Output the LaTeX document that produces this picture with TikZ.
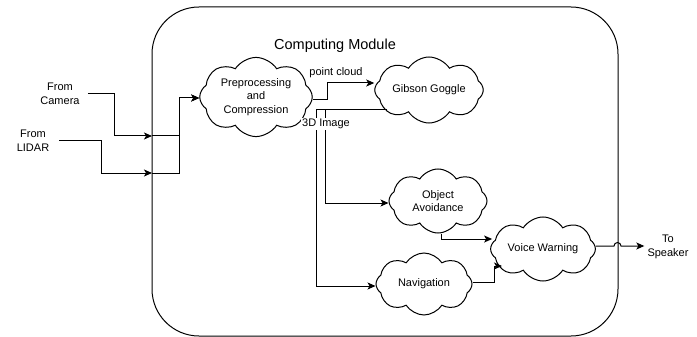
\documentclass[tikz,border=0pt]{standalone}
\usepackage{fontspec}
\setmainfont{Liberation Sans}
\usetikzlibrary{shapes.symbols,arrows.meta,calc}
\begin{document}
\begin{tikzpicture}[x=1pt,y=-1pt,
  lbl/.style={font=\fontsize{11pt}{13.5pt}\selectfont, align=center, inner sep=3pt},
  cl/.style={cloud, draw, line width=1pt, cloud puffs=8, cloud puff arc=115, cloud ignores aspect, fill=white, lbl},
  arr/.style={line width=1pt, -{Stealth[length=8pt,width=7pt,inset=2pt]}},
  ln/.style={line width=1pt}]
\useasboundingbox (0,0) rectangle (697,337);
% module box
\node[draw, line width=1pt, rounded corners=47pt, minimum width=466pt, minimum height=329pt, inner sep=0pt] (cm) at (385,171.5) {};
\node[font=\fontsize{14.5pt}{17pt}\selectfont] (title) at (335,46) {Computing Module};
% text nodes
\node[lbl] (cam) at (60,94) {From\\Camera};
\node[lbl] (lid) at (33,140.5) {From\\LIDAR};
\node[lbl] (spk) at (668,247) {To\\Speaker};
% clouds
\node[cl, minimum width=108pt, minimum height=74pt] (prep) at (256,97) {Preprocessing\\and\\Compression};
\node[cl, minimum width=108pt, minimum height=66pt] (gib) at (429,90) {Gibson Goggle};
\node[cl, minimum width=98pt, minimum height=64pt] (oa) at (438,201) {Object\\Avoidance};
\node[cl, minimum width=96pt, minimum height=62pt] (nav) at (424,284) {Navigation};
\node[cl, minimum width=98pt, minimum height=64pt] (vw) at (543,249) {Voice Warning};
% input points on module border
\coordinate (camin) at (152,136);
\coordinate (lidin) at (152,173);
% input connectors
\draw[arr] ([xshift=5pt]cam.east) -- ++(27,0) |- (camin);
\draw[arr] ([xshift=7pt]lid.east) -- ++(42,0) |- (lidin);
\draw[arr] (camin) -- ++(27,0) |- ([yshift=-1pt]prep.west);
\draw[arr] (lidin) -- ++(27,0) |- ([yshift=-1pt]prep.west);
% prep -> gibson
\draw[arr] ([yshift=-3pt]prep.east) -- ++(15,0) |- ([yshift=7pt]gib.west);
\node[lbl] (pc) at (336,73) {point cloud};
% gibson -> OA / Nav
\draw[arr] ($(gib)+(-42,20)$) -- ++(-62,0) |- ([yshift=-2pt]oa.west);
\draw[arr] ($(gib)+(-42,20)$) -- ++(-71,0) |- ([yshift=-2pt]nav.west);
\node[lbl, fill=white, inner sep=1pt] (img) at (326,124) {3D Image};
% to voice warning
\draw[arr] ([xshift=3pt]oa.south) |- ([yshift=10pt,xshift=2pt]vw.west);
\draw[arr] ([yshift=2pt]nav.east) -- ++(22,0) |- ($(vw)+(-41,17)$);
% to speaker with line jump
\draw[arr] ([yshift=3pt]vw.east) -- (614,246) arc(180:360:3.5) -- ([yshift=1pt]spk.west);
\end{tikzpicture}
\end{document}
